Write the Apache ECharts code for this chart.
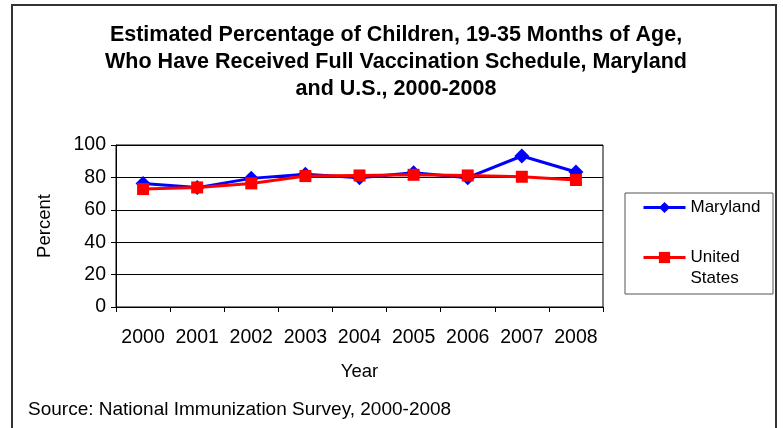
<!DOCTYPE html>
<html><head><meta charset="utf-8">
<script src="https://cdn.jsdelivr.net/npm/echarts@6/dist/echarts.min.js"></script>
<style>html,body{margin:0;padding:0;background:#fff}#c{width:783px;height:428px}</style>
</head><body><div id="c"></div>
<script>
var years = ['2000','2001','2002','2003','2004','2005','2006','2007','2008'];
var maryland = [76.3, 73.7, 79.4, 82.0, 79.8, 82.9, 79.8, 93.2, 83.3];
var unitedStates = [72.8, 73.8, 76.3, 80.8, 81.2, 81.6, 81.2, 80.4, 78.4];
var yTicks = [0, 20, 40, 60, 80, 100];

var FONT = '"Liberation Sans", Arial, sans-serif';
var chart = echarts.init(document.getElementById('c'), null, {renderer: 'canvas'});
chart.setOption({
  animation: false,
  backgroundColor: '#fff',
  title: {
    text: 'Estimated Percentage of Children, 19-35 Months of Age,\nWho Have Received Full Vaccination Schedule, Maryland\nand U.S., 2000-2008',
    left: 396, top: 22, textAlign: 'center', padding: 0,
    textStyle: {fontFamily: FONT, fontWeight: 'bold', fontSize: 21.5, lineHeight: 27, color: '#000'}
  },
  graphic: [
    {type: 'rect', shape: {x: 12, y: 5, width: 764, height: 440}, style: {fill: 'none', stroke: '#333', lineWidth: 2}, z: 0},
    {type: 'rect', shape: {x: 625, y: 193, width: 148, height: 101}, style: {fill: '#fff', stroke: '#555', lineWidth: 1}, z: 1},
    {type: 'text', left: 28, top: 400, style: {text: 'Source: National Immunization Survey, 2000-2008', font: '19px ' + FONT, fill: '#000'}, z: 5}
  ],
  grid: {left: 116, right: 180, top: 145, bottom: 121, show: true, borderColor: '#000', borderWidth: 1, backgroundColor: 'transparent'},
  legend: {
    orient: 'vertical', left: 637, top: 192, itemWidth: 42, itemHeight: 14, itemGap: 8,
    lineStyle: {width: 3},
    data: ['Maryland', 'United States'],
    formatter: function (n) { return n === 'United States' ? ' \nUnited\nStates' : n; },
    textStyle: {fontFamily: FONT, fontSize: 17, color: '#000', lineHeight: 21},
    z: 6
  },
  xAxis: {
    type: 'category', data: years, boundaryGap: true,
    name: 'Year', nameLocation: 'middle', nameGap: 55,
    nameTextStyle: {fontFamily: FONT, fontSize: 18.5, color: '#000'},
    axisLine: {lineStyle: {color: '#000', width: 1}},
    axisTick: {show: true, length: 5, inside: false, alignWithLabel: false, interval: 0, lineStyle: {color: '#000'}},
    axisLabel: {fontFamily: FONT, fontSize: 19.5, color: '#000', margin: 21, interval: 0, hideOverlap: false}
  },
  yAxis: {
    type: 'value', min: yTicks[0], max: yTicks[yTicks.length - 1], interval: 20,
    name: 'Percent', nameLocation: 'middle', nameGap: 62, nameRotate: 90,
    nameTextStyle: {fontFamily: FONT, fontSize: 18.5, color: '#000'},
    axisLine: {show: true, lineStyle: {color: '#000', width: 1}},
    axisTick: {show: true, length: 5, lineStyle: {color: '#000'}},
    axisLabel: {fontFamily: FONT, fontSize: 19.5, color: '#000', margin: 10},
    splitLine: {show: true, lineStyle: {color: '#000', width: 1}}
  },
  series: [
    {name: 'Maryland', type: 'line', data: maryland, symbol: 'diamond', symbolSize: 15,
     lineStyle: {color: '#0000ff', width: 3}, itemStyle: {color: '#0000ff'}, z: 3},
    {name: 'United States', type: 'line', data: unitedStates, symbol: 'rect', symbolSize: 12,
     lineStyle: {color: '#ff0000', width: 3}, itemStyle: {color: '#ff0000'}, z: 4}
  ]
});
</script></body></html>
